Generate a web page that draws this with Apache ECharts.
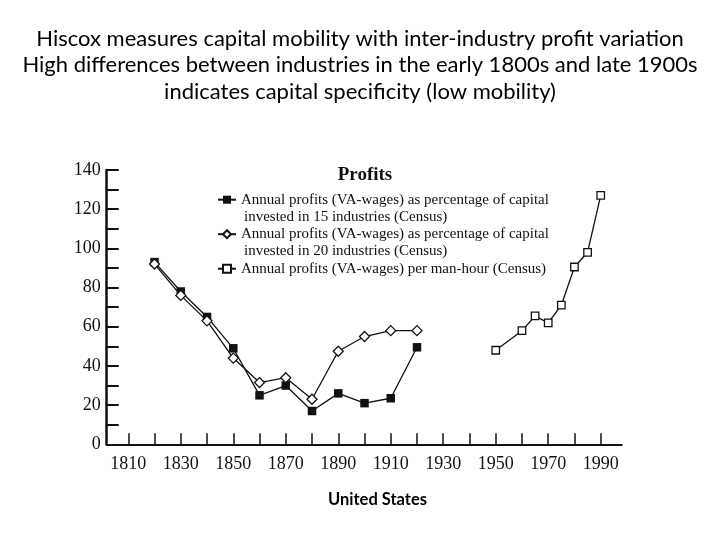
<!DOCTYPE html>
<html>
<head>
<meta charset="utf-8">
<script src="https://cdn.jsdelivr.net/npm/echarts@6/dist/echarts.min.js"></script>
<style>
html,body{margin:0;padding:0;background:#fff;}
#chart{width:720px;height:540px;}
</style>
</head>
<body>
<div id="chart"></div>
<script>
// ---- data ----
var years19 = [1820, 1830, 1840, 1850, 1860, 1870, 1880, 1890, 1900, 1910, 1920];
var profits15 = [93, 78, 65, 49, 25, 30, 17, 26, 21, 23.5, 49.5];
var profits20 = [92, 76, 63, 44, 31.5, 34, 23, 47.5, 55, 58, 58];
var years20 = [1950, 1960, 1965, 1970, 1975, 1980, 1985, 1990];
var profitsManHour = [48, 58, 65.5, 62, 71, 90.5, 98, 127];
var seriesNames = [
  'Annual profits (VA-wages) as percentage of capital\ninvested in 15 industries (Census)',
  'Annual profits (VA-wages) as percentage of capital\ninvested in 20 industries (Census)',
  'Annual profits (VA-wages) per man-hour (Census)'
];
var titleLines = [
  'Hiscox measures capital mobility with inter-industry profit variation',
  'High differences between industries in the early 1800s and late 1900s',
  'indicates capital specificity (low mobility)'
];
var legendTitle = 'Profits';
var xTitle = 'United States';
var yMin = 0, yMax = 140, yStep = 10, yLabelStep = 20;
var xMin = 1810, xMax = 1990, xStep = 10, xLabelStep = 20;

function pairs(xs, ys) { return xs.map(function (x, i) { return [x, ys[i]]; }); }

var ink = '#111';
var serif = '"Liberation Serif", "Times New Roman", serif';

var chart = echarts.init(document.getElementById('chart'));
chart.setOption({
  animation: false,
  backgroundColor: '#fff',
  title: [
    { text: titleLines.join('\n'), left: 'center', top: 25.5, padding: 0,
      textStyle: { fontFamily: 'Lato', fontSize: 22, fontWeight: 'normal', color: '#000', lineHeight: 26.5 } },
    { text: legendTitle, left: 365, top: 166, padding: 0, textAlign: 'center',
      textStyle: { fontFamily: serif, fontSize: 19, fontWeight: 'bold', color: ink } },
    { text: seriesNames[0].split('\n')[1], left: 244, top: 208, padding: 0,
      textStyle: { fontFamily: serif, fontSize: 15, fontWeight: 'normal', color: ink, lineHeight: 17.4 } },
    { text: seriesNames[1].split('\n')[1], left: 244, top: 242.5, padding: 0,
      textStyle: { fontFamily: serif, fontSize: 15, fontWeight: 'normal', color: ink, lineHeight: 17.4 } },
    { text: xTitle, left: 377.5, top: 491.5, padding: 0, textAlign: 'center',
      textStyle: { fontFamily: 'Lato', fontSize: 16.5, fontWeight: 'bold', color: '#000' } }
  ],
  legend: {
    orient: 'vertical', left: 217, top: 191, padding: 0,
    itemWidth: 18, itemHeight: 10, itemGap: 17.1,
    data: seriesNames,
    formatter: function (n) { return n.split('\n')[0]; },
    textStyle: { fontFamily: serif, fontSize: 15, color: ink, lineHeight: 17.4 }
  },
  grid: [
    { left: 106.7, right: 98.3, top: 170, bottom: 95.7 },
    { left: 128.3, right: 119.3, top: 170, bottom: 95.7 }
  ],
  xAxis: [
    { type: 'value', gridIndex: 1, min: xMin, max: xMax, interval: xStep,
      axisLine: { show: false },
      axisTick: { show: true, inside: true, length: 11, lineStyle: { color: ink, width: 1.5 } },
      splitLine: { show: false },
      axisLabel: { margin: 11, fontFamily: serif, fontSize: 18, color: ink,
        formatter: function (v) { return ((v - xMin) % xLabelStep === 0) ? String(v) : ''; } } },
    { type: 'value', gridIndex: 0, min: 0, max: 1,
      axisLine: { show: true, onZero: false, lineStyle: { color: ink, width: 2 } },
      axisTick: { show: false }, axisLabel: { show: false }, splitLine: { show: false } }
  ],
  yAxis: [
    { type: 'value', gridIndex: 0, min: yMin, max: yMax, interval: yStep,
      axisLine: { show: true, lineStyle: { color: ink, width: 2.5 } },
      axisTick: { show: true, inside: true, length: 12, lineStyle: { color: ink, width: 2 } },
      splitLine: { show: false },
      axisLabel: { margin: 6, fontFamily: serif, fontSize: 18, color: ink,
        formatter: function (v) { return (v % yLabelStep === 0) ? String(v) : ''; } } },
    { type: 'value', gridIndex: 1, min: yMin, max: yMax, show: false }
  ],
  series: [
    { name: seriesNames[0], type: 'line', xAxisIndex: 0, yAxisIndex: 1,
      data: pairs(years19, profits15), symbol: 'rect', symbolSize: 8.5,
      lineStyle: { color: ink, width: 1.3 }, itemStyle: { color: ink, borderColor: ink, borderWidth: 0 }, z: 3 },
    { name: seriesNames[1], type: 'line', xAxisIndex: 0, yAxisIndex: 1,
      data: pairs(years19, profits20), symbol: 'diamond', symbolSize: 10,
      lineStyle: { color: ink, width: 1.3 }, itemStyle: { color: '#fff', borderColor: ink, borderWidth: 1.3 }, z: 4 },
    { name: seriesNames[2], type: 'line', xAxisIndex: 0, yAxisIndex: 1,
      data: pairs(years20, profitsManHour), symbol: 'rect', symbolSize: 7.5,
      lineStyle: { color: ink, width: 1.3 }, itemStyle: { color: '#fff', borderColor: ink, borderWidth: 1.3 }, z: 4 }
  ]
});
</script>
</body>
</html>
